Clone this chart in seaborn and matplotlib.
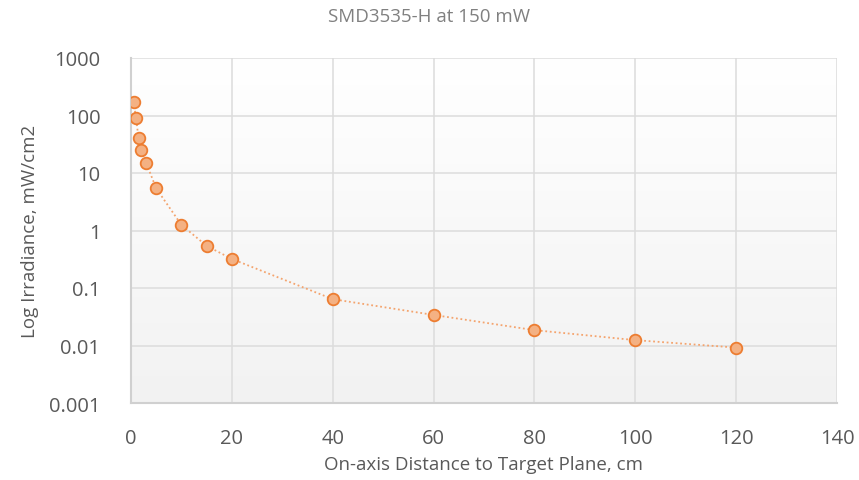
import numpy as np
import pandas as pd
import matplotlib
matplotlib.use("Agg")
import matplotlib.pyplot as plt
import seaborn as sns
from matplotlib.colors import LinearSegmentedColormap

distance_cm = [0.5, 1, 1.5, 2, 3, 5, 10, 15, 20, 40, 60, 80, 100, 120]
irradiance = [172, 90, 40, 25, 15, 5.4, 1.25, 0.54, 0.32, 0.064, 0.034, 0.0185, 0.0124, 0.0092]
x_ticks = [0, 20, 40, 60, 80, 100, 120, 140]
y_ticks = [0.001, 0.01, 0.1, 1, 10, 100, 1000]
y_tick_labels = ["0.001", "0.01", "0.1", "1", "10", "100", "1000"]
title = "SMD3535-H at 150 mW"
x_label = "On-axis Distance to Target Plane, cm"
y_label = "Log Irradiance, mW/cm2"

df = pd.DataFrame({"d": distance_cm, "e": irradiance})

sns.set_style("white")
plt.rcParams["font.family"] = ["Open Sans", "DejaVu Sans"]
text_col = "#595959"

fig = plt.figure(figsize=(8.59, 4.81), dpi=100)
ax = fig.add_axes([131/859, 1-404/481, (837-131)/859, (404-59)/481])

# gradient background
grad = np.linspace(0, 1, 256).reshape(-1, 1)
cmap = LinearSegmentedColormap.from_list("g", ["#f2f2f2", "#ffffff"])
ax.imshow(grad, extent=[0, 1, 0, 1], transform=ax.transAxes, cmap=cmap,
          aspect="auto", origin="lower", zorder=0)

ax.set_yscale("log")
sns.lineplot(data=df, x="d", y="e", ax=ax, color="#f4a46e", linestyle=(0, (1, 1.5)),
             linewidth=1.3, zorder=3)
sns.scatterplot(data=df, x="d", y="e", ax=ax, color="#f4b183", edgecolor="#ed7d31",
                linewidth=1.3, s=70, zorder=4)

ax.set_xlim(0, 140)
ax.set_ylim(0.001, 1000)
ax.set_xticks(x_ticks)
ax.set_yticks(y_ticks)
ax.set_yticklabels(y_tick_labels)
ax.minorticks_off()
ax.grid(True, color="#dcdcdc", linewidth=1.1, zorder=1)
ax.set_axisbelow(True)
for s in ["top", "right"]:
    ax.spines[s].set_visible(False)
for s in ["left", "bottom"]:
    ax.spines[s].set_color("#d0d0d0")
    ax.spines[s].set_linewidth(1.5)
ax.tick_params(axis="x", length=0, labelsize=14.5, colors=text_col, pad=18)
ax.tick_params(axis="y", length=0, labelsize=14.5, colors=text_col, pad=22)
ax.set_xlabel(x_label, fontsize=13.5, color=text_col, labelpad=5)
ax.set_ylabel(y_label, fontsize=13.5, color=text_col, labelpad=7)
fig.suptitle(title, x=0.5, y=1-17/481, fontsize=13.5, color="#808080", va="center")

fig.savefig("out.png", dpi=100)
